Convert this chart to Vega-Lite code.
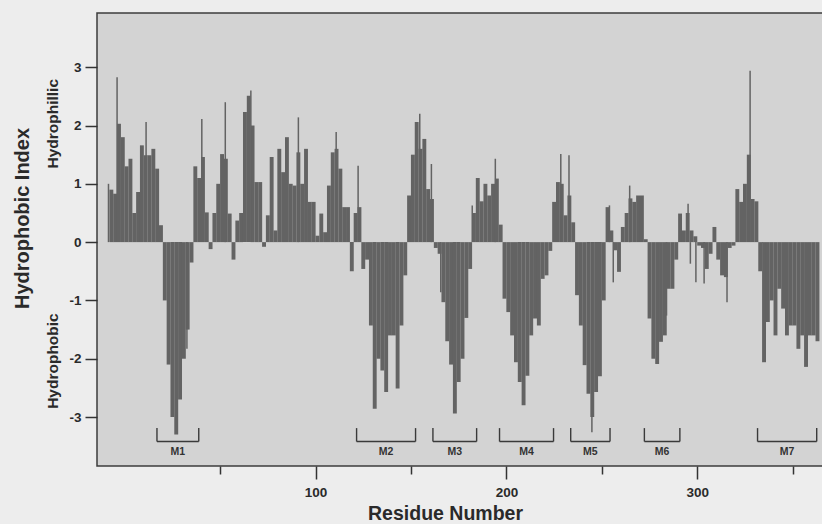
{
  "$schema": "https://vega.github.io/schema/vega-lite/v6.json",
  "width": 727,
  "height": 453,
  "autosize": {"type": "none"},
  "padding": {"left": 97, "top": 13, "right": 0, "bottom": 58},
  "background": "#ededed",
  "config": {
    "font": "Liberation Sans",
    "view": {"fill": "#d3d3d3", "stroke": "#3c3c3c", "strokeWidth": 1.5}
  },
  "datasets": {
    "profile": [
      {"res": -7, "hi": 0.9}, {"res": -5, "hi": 0.83}, {"res": -3, "hi": 2.03}, {"res": -1, "hi": 1.8},
      {"res": 1, "hi": 1.3}, {"res": 3, "hi": 1.43}, {"res": 5, "hi": 0.5}, {"res": 7, "hi": 0.86},
      {"res": 9, "hi": 1.66}, {"res": 11, "hi": 1.49}, {"res": 13, "hi": 1.49}, {"res": 15, "hi": 1.6},
      {"res": 17, "hi": 1.26}, {"res": 19, "hi": 0.29}, {"res": 21, "hi": -1.0}, {"res": 23, "hi": -2.1},
      {"res": 25, "hi": -3.0}, {"res": 27, "hi": -3.3}, {"res": 29, "hi": -2.7}, {"res": 31, "hi": -2.0},
      {"res": 33, "hi": -1.5}, {"res": 35, "hi": -0.35}, {"res": 37, "hi": 1.3}, {"res": 39, "hi": 1.1},
      {"res": 41, "hi": 1.46}, {"res": 43, "hi": 0.51}, {"res": 45, "hi": -0.12}, {"res": 47, "hi": 0.5},
      {"res": 49, "hi": 1.0}, {"res": 51, "hi": 1.51}, {"res": 53, "hi": 1.43}, {"res": 55, "hi": 0.49},
      {"res": 57, "hi": -0.3}, {"res": 59, "hi": 0.37}, {"res": 61, "hi": 0.5}, {"res": 63, "hi": 2.23},
      {"res": 65, "hi": 2.51}, {"res": 67, "hi": 2.0}, {"res": 69, "hi": 1.03}, {"res": 71, "hi": 1.03},
      {"res": 73, "hi": -0.08}, {"res": 75, "hi": 0.46}, {"res": 77, "hi": 1.46}, {"res": 79, "hi": 0.2},
      {"res": 81, "hi": 1.6}, {"res": 83, "hi": 1.2}, {"res": 85, "hi": 1.8}, {"res": 87, "hi": 1.0},
      {"res": 89, "hi": 0.97}, {"res": 91, "hi": 1.54}, {"res": 93, "hi": 1.0}, {"res": 95, "hi": 1.6},
      {"res": 97, "hi": 0.69}, {"res": 99, "hi": 0.69}, {"res": 101, "hi": 0.11}, {"res": 103, "hi": 0.49},
      {"res": 105, "hi": 0.17}, {"res": 107, "hi": 0.97}, {"res": 109, "hi": 1.54}, {"res": 111, "hi": 1.6},
      {"res": 113, "hi": 1.26}, {"res": 115, "hi": 0.6}, {"res": 117, "hi": 0.6}, {"res": 119, "hi": -0.5},
      {"res": 121, "hi": 0.5}, {"res": 123, "hi": 0.6}, {"res": 125, "hi": -0.46}, {"res": 127, "hi": -0.3},
      {"res": 129, "hi": -1.43}, {"res": 131, "hi": -2.86}, {"res": 133, "hi": -2.0}, {"res": 135, "hi": -2.2},
      {"res": 137, "hi": -2.57}, {"res": 139, "hi": -1.6}, {"res": 141, "hi": -1.6}, {"res": 143, "hi": -2.51},
      {"res": 145, "hi": -1.43}, {"res": 147, "hi": -0.57}, {"res": 149, "hi": 0.8}, {"res": 151, "hi": 1.5},
      {"res": 153, "hi": 2.06}, {"res": 155, "hi": 1.6}, {"res": 157, "hi": 1.77}, {"res": 159, "hi": 0.91},
      {"res": 161, "hi": 0.74}, {"res": 163, "hi": -0.1}, {"res": 165, "hi": -0.2}, {"res": 167, "hi": -1.03},
      {"res": 169, "hi": -1.7}, {"res": 171, "hi": -2.1}, {"res": 173, "hi": -2.94}, {"res": 175, "hi": -2.4},
      {"res": 177, "hi": -2.0}, {"res": 179, "hi": -1.3}, {"res": 181, "hi": -0.46}, {"res": 183, "hi": 0.5},
      {"res": 185, "hi": 1.1}, {"res": 187, "hi": 0.7}, {"res": 189, "hi": 1.0}, {"res": 191, "hi": 0.8},
      {"res": 193, "hi": 1.0}, {"res": 195, "hi": 1.09}, {"res": 197, "hi": 0.3}, {"res": 199, "hi": -0.97},
      {"res": 201, "hi": -1.2}, {"res": 203, "hi": -1.6}, {"res": 205, "hi": -2.06}, {"res": 207, "hi": -2.4},
      {"res": 209, "hi": -2.8}, {"res": 211, "hi": -2.29}, {"res": 213, "hi": -1.6}, {"res": 215, "hi": -1.31},
      {"res": 217, "hi": -1.43}, {"res": 219, "hi": -0.63}, {"res": 221, "hi": -0.57}, {"res": 223, "hi": -0.15},
      {"res": 225, "hi": 0.69}, {"res": 227, "hi": 1.03}, {"res": 229, "hi": 1.0}, {"res": 231, "hi": 0.46},
      {"res": 233, "hi": 0.8}, {"res": 235, "hi": 0.34}, {"res": 237, "hi": -0.91}, {"res": 239, "hi": -1.43},
      {"res": 241, "hi": -2.11}, {"res": 243, "hi": -2.6}, {"res": 245, "hi": -3.0}, {"res": 247, "hi": -2.57},
      {"res": 249, "hi": -2.3}, {"res": 251, "hi": -1.0}, {"res": 253, "hi": 0.6}, {"res": 255, "hi": 0.2},
      {"res": 257, "hi": -0.14}, {"res": 259, "hi": -0.51}, {"res": 261, "hi": 0.26}, {"res": 263, "hi": 0.5},
      {"res": 265, "hi": 0.75}, {"res": 267, "hi": 0.69}, {"res": 269, "hi": 0.8}, {"res": 271, "hi": 0.8},
      {"res": 273, "hi": 0.05}, {"res": 275, "hi": -1.31}, {"res": 277, "hi": -2.0}, {"res": 279, "hi": -2.09},
      {"res": 281, "hi": -1.71}, {"res": 283, "hi": -1.6}, {"res": 285, "hi": -0.8}, {"res": 287, "hi": -0.8},
      {"res": 289, "hi": -0.3}, {"res": 291, "hi": 0.49}, {"res": 293, "hi": 0.2}, {"res": 295, "hi": 0.5},
      {"res": 297, "hi": 0.2}, {"res": 299, "hi": 0.1}, {"res": 301, "hi": -0.06}, {"res": 303, "hi": -0.1},
      {"res": 305, "hi": -0.46}, {"res": 307, "hi": -0.2}, {"res": 309, "hi": 0.26}, {"res": 311, "hi": -0.3},
      {"res": 313, "hi": -0.57}, {"res": 315, "hi": -0.6}, {"res": 317, "hi": -0.1}, {"res": 319, "hi": -0.06},
      {"res": 321, "hi": 0.91}, {"res": 323, "hi": 0.69}, {"res": 325, "hi": 1.0}, {"res": 327, "hi": 1.5},
      {"res": 329, "hi": 0.74}, {"res": 331, "hi": 0.7}, {"res": 333, "hi": -0.5}, {"res": 335, "hi": -2.06},
      {"res": 337, "hi": -1.37}, {"res": 339, "hi": -1.0}, {"res": 341, "hi": -1.6}, {"res": 343, "hi": -0.8},
      {"res": 345, "hi": -1.14}, {"res": 347, "hi": -1.6}, {"res": 349, "hi": -1.43}, {"res": 351, "hi": -1.43},
      {"res": 353, "hi": -1.83}, {"res": 355, "hi": -1.6}, {"res": 357, "hi": -2.14}, {"res": 359, "hi": -1.6},
      {"res": 361, "hi": -1.6}, {"res": 363, "hi": -1.7}
    ],
    "spikes": [
      {"res": -8.5, "hi": 1.0}, {"res": -4, "hi": 2.83}, {"res": 11.2, "hi": 2.06}, {"res": 32.6, "hi": -1.83},
      {"res": 40.4, "hi": 2.11}, {"res": 52.7, "hi": 2.4}, {"res": 66.1, "hi": 2.6}, {"res": 91, "hi": 2.14},
      {"res": 110.8, "hi": 1.89}, {"res": 122.3, "hi": 1.31}, {"res": 154.6, "hi": 2.2}, {"res": 160.7, "hi": 1.34},
      {"res": 165.6, "hi": -0.86}, {"res": 182.1, "hi": 0.63}, {"res": 194.2, "hi": 1.43}, {"res": 228.5, "hi": 1.51},
      {"res": 232.8, "hi": 1.49}, {"res": 244.8, "hi": -3.26}, {"res": 254, "hi": 0.63}, {"res": 256, "hi": -0.69},
      {"res": 264.6, "hi": 0.97}, {"res": 283.9, "hi": -1.26}, {"res": 295.2, "hi": 0.66}, {"res": 296.4, "hi": -0.37},
      {"res": 299.3, "hi": -0.69}, {"res": 303.6, "hi": -0.71}, {"res": 315.6, "hi": -1.03}, {"res": 327.7, "hi": 2.94}
    ],
    "segments": [
      {"name": "M1", "start": 16.9, "end": 38.8, "mid": 27.8},
      {"name": "M2", "start": 121.5, "end": 152.4, "mid": 137},
      {"name": "M3", "start": 161.5, "end": 184.4, "mid": 173},
      {"name": "M4", "start": 196.4, "end": 224.7, "mid": 210.5},
      {"name": "M5", "start": 233.7, "end": 254.3, "mid": 244},
      {"name": "M6", "start": 272.3, "end": 290.9, "mid": 281.6},
      {"name": "M7", "start": 331.6, "end": 362.6, "mid": 347.1}
    ],
    "sides": [
      {"t": "Hydrophillic", "v": 2.03},
      {"t": "Hydrophobic", "v": -2.04}
    ]
  },
  "encoding": {
    "x": {
      "type": "quantitative",
      "scale": {"domain": [-11.9, 363.8], "nice": false, "zero": false},
      "axis": {
        "values": [50, 100, 150, 200, 250, 300, 350],
        "labelExpr": "datum.value % 100 === 0 ? datum.label : ''",
        "tickSize": {"condition": {"test": "datum.value % 100 === 0", "value": 13}, "value": 8},
        "tickColor": "#333333", "tickWidth": 1.5,
        "domain": false, "grid": false,
        "labelFontSize": 13.5, "labelFontWeight": "bold", "labelColor": "#2a2a2a", "labelPadding": 6,
        "title": "Residue Number", "titleFontSize": 19.5, "titleFontWeight": "bold", "titleColor": "#2a2a2a",
        "titleX": 348, "titleY": 47, "titleBaseline": "middle", "titleAlign": "center"
      }
    },
    "y": {
      "type": "quantitative",
      "scale": {"domain": [-3.84, 3.93], "nice": false, "zero": false},
      "axis": {
        "values": [-3, -2, -1, 0, 1, 2, 3],
        "labelExpr": "replace(datum.label, '\u2212', '-')",
        "tickSize": 12, "tickColor": "#333333", "tickWidth": 1.5,
        "domain": false, "grid": false,
        "labelFontSize": 13.5, "labelFontWeight": "bold", "labelColor": "#2a2a2a", "labelPadding": 4,
        "title": "Hydrophobic Index", "titleFontSize": 20, "titleFontWeight": "bold", "titleColor": "#2a2a2a",
        "titleX": -75, "titleY": 205, "titleBaseline": "middle", "titleAlign": "center", "titleAngle": 270
      }
    }
  },
  "layer": [
    {
      "data": {"name": "profile"},
      "mark": {"type": "bar", "width": 3.9, "color": "#636363"},
      "encoding": {
        "x": {"field": "res"},
        "y": {"field": "hi"},
        "y2": {"datum": 0}
      }
    },
    {
      "data": {"name": "spikes"},
      "mark": {"type": "bar", "width": 1.5, "color": "#636363"},
      "encoding": {
        "x": {"field": "res"},
        "y": {"field": "hi"},
        "y2": {"datum": 0}
      }
    },
    {
      "data": {"name": "segments"},
      "mark": {"type": "rule", "color": "#3a3a3a", "strokeWidth": 1.4},
      "encoding": {
        "x": {"field": "start"},
        "x2": {"field": "end"},
        "y": {"datum": -3.42}
      }
    },
    {
      "data": {"name": "segments"},
      "transform": [{"fold": ["start", "end"], "as": ["side", "pos"]}],
      "mark": {"type": "rule", "color": "#3a3a3a", "strokeWidth": 1.4},
      "encoding": {
        "x": {"field": "pos"},
        "y": {"datum": -3.19},
        "y2": {"datum": -3.42}
      }
    },
    {
      "data": {"name": "segments"},
      "mark": {"type": "text", "fontSize": 10.5, "fontWeight": "bold", "color": "#333333", "baseline": "middle"},
      "encoding": {
        "x": {"field": "mid"},
        "y": {"datum": -3.6},
        "text": {"field": "name"}
      }
    },
    {
      "data": {"name": "sides"},
      "mark": {"type": "text", "fontSize": 15.5, "fontWeight": "bold", "color": "#2a2a2a", "angle": 270, "baseline": "middle", "align": "center"},
      "encoding": {
        "x": {"datum": -37.6},
        "y": {"field": "v"},
        "text": {"field": "t"}
      }
    }
  ]
}
